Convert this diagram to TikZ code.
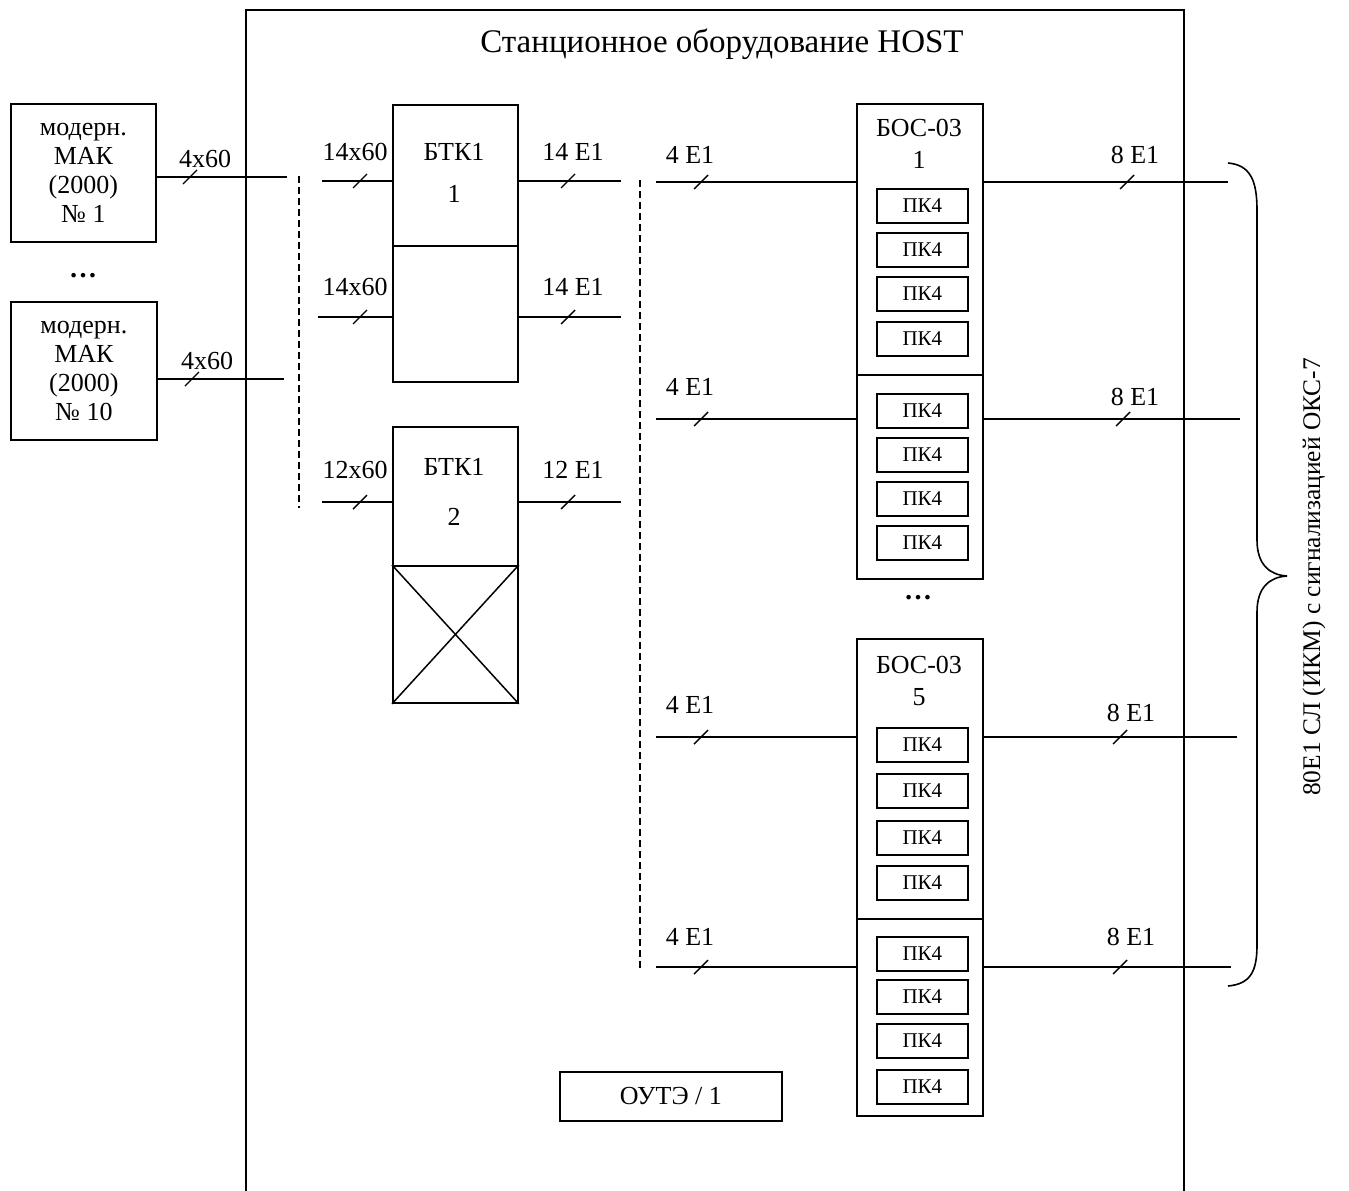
\documentclass[tikz,border=0pt]{standalone}
\usepackage{fontspec}
\setmainfont{Liberation Serif}
\begin{document}
\begin{tikzpicture}[x=1pt,y=-1pt,line width=1.8pt,
  box/.style={draw,line width=1.8pt,inner sep=0pt,anchor=north west},
  pkbox/.style={draw,line width=1.7pt,inner sep=0pt,anchor=north west,minimum width=91pt,minimum height=34pt,font=\fontsize{21}{24}\selectfont},
  lbl/.style={inner sep=0pt,font=\fontsize{26}{30}\selectfont},
  slashmark/.pic={\draw[line width=1.4pt] (-7,7)--(7,-7);},
  dashline/.style={line width=1.4pt,dash pattern=on 7pt off 4pt}]
\useasboundingbox (0,0) rectangle (1349,1191);
% main frame
\coordinate (fbl) at (246,1195);
\coordinate (ftl) at (246,10);
\coordinate (ftr) at (1184,10);
\coordinate (fbr) at (1184,1195);
\draw (fbl) -- (ftl) -- (ftr) -- (fbr);
\node[inner sep=0pt,font=\fontsize{33}{38}\selectfont] (title) at (722,44) {Станционное оборудование HOST};
% MAK boxes
\node[box,minimum width=145pt,minimum height=138pt] (mak1) at (10,103) {};
\node[lbl,align=center,font=\fontsize{26}{29}\selectfont] (mak1t) at (mak1.center) {модерн.\\МАК\\(2000)\\№ 1};
\node[lbl,font=\fontsize{28}{30}\selectfont\bfseries] (dots1) at (83,276) {…};
\node[box,minimum width=146pt,minimum height=138pt] (mak10) at (10,301) {};
\node[lbl,align=center,font=\fontsize{26}{29}\selectfont] (mak10t) at (mak10.center) {модерн.\\МАК\\(2000)\\№ 10};
\coordinate (m1e) at (287,177);
\draw (m1e -| mak1.east) -- (m1e);
\pic at (190,177) {slashmark};
\node[lbl] (l41) at (205,159) {4x60};
\coordinate (m10e) at (284,379);
\draw (m10e -| mak10.east) -- (m10e);
\pic at (192,379) {slashmark};
\node[lbl] (l410) at (207,361) {4x60};
% dashed lines
\coordinate (d1a) at (299,176);
\coordinate (d1b) at (299,508);
\draw[dashline] (d1a) -- (d1b);
\coordinate (d2a) at (640,180);
\coordinate (d2b) at (640,968);
\draw[dashline] (d2a) -- (d2b);
% BTK1 block 1
\node[box,minimum width=125pt,minimum height=141pt] (btk1a) at (392,104) {};
\node[box,minimum width=125pt,minimum height=136pt] (btk1b) at (392,245) {};
\node[lbl] (btk1t) at (454,152) {БТК1};
\node[lbl] (btk1n) at (454,194) {1};
\coordinate (b1in) at (322,181);
\draw (b1in) -- (b1in -| btk1a.west);
\pic at (360,181) {slashmark};
\node[lbl] (lb1in) at (355,152) {14x60};
\coordinate (b1out) at (621,181);
\draw (b1out -| btk1a.east) -- (b1out);
\pic at (568,181) {slashmark};
\node[lbl] (lb1out) at (573,152) {14 E1};
\coordinate (b2in) at (318,317);
\draw (b2in) -- (b2in -| btk1b.west);
\pic at (360,317) {slashmark};
\node[lbl] (lb2in) at (355,287) {14x60};
\coordinate (b2out) at (621,317);
\draw (b2out -| btk1b.east) -- (b2out);
\pic at (568,317) {slashmark};
\node[lbl] (lb2out) at (573,287) {14 E1};
% BTK1 block 2
\node[box,minimum width=125pt,minimum height=139pt] (btk2a) at (392,426) {};
\node[box,minimum width=125pt,minimum height=137pt] (btk2b) at (392,565) {};
\draw[line width=1.5pt] (btk2b.north west) -- (btk2b.south east);
\draw[line width=1.5pt] (btk2b.north east) -- (btk2b.south west);
\node[lbl] (btk2t) at (454,467) {БТК1};
\node[lbl] (btk2n) at (454,517) {2};
\coordinate (b3in) at (322,502);
\draw (b3in) -- (b3in -| btk2a.west);
\pic at (360,502) {slashmark};
\node[lbl] (lb3in) at (355,470) {12x60};
\coordinate (b3out) at (621,502);
\draw (b3out -| btk2a.east) -- (b3out);
\pic at (568,502) {slashmark};
\node[lbl] (lb3out) at (573,470) {12 E1};
% BOS boxes
\node[box,minimum width=126pt,minimum height=271pt] (bos1) at (856,103) {};
\node[box,minimum width=126pt,minimum height=204pt] (bos2) at (856,374) {};
\node[box,minimum width=126pt,minimum height=280pt] (bos5) at (856,638) {};
\node[box,minimum width=126pt,minimum height=197pt] (bos6) at (856,918) {};
\node[lbl] (bos1t) at (919,128) {БОС-03};
\node[lbl] (bos1n) at (919,160) {1};
\node[lbl] (bos5t) at (919,665) {БОС-03};
\node[lbl] (bos5n) at (919,697) {5};
\node[lbl,font=\fontsize{28}{30}\selectfont\bfseries] (dots2) at (918,598) {…};
% PK4 boxes
\foreach \i/\yy in {a/188,b/232,c/276,d/321,e/393,f/437,g/481,h/525,i/727,j/773,k/820,l/865,m/936,n/979,o/1023,p/1069}
  \node[pkbox] (pk\i) at (876,\yy) {ПК4};
% BOS lines
\foreach \r/\yy/\xe in {1/182/1228,2/419/1240,3/737/1237,4/967/1231}{
  \coordinate (bin\r) at (656,\yy);
  \coordinate (bout\r) at (\xe,\yy);
}
\draw (bin1) -- (bin1 -| bos1.west);
\draw (bout1 -| bos1.east) -- (bout1);
\draw (bin2) -- (bin2 -| bos2.west);
\draw (bout2 -| bos2.east) -- (bout2);
\draw (bin3) -- (bin3 -| bos5.west);
\draw (bout3 -| bos5.east) -- (bout3);
\draw (bin4) -- (bin4 -| bos6.west);
\draw (bout4 -| bos6.east) -- (bout4);
\pic at (701,182) {slashmark};
\pic at (701,419) {slashmark};
\pic at (701,737) {slashmark};
\pic at (701,967) {slashmark};
\pic at (1127,182) {slashmark};
\pic at (1123,419) {slashmark};
\pic at (1120,737) {slashmark};
\pic at (1120,967) {slashmark};
\node[lbl] (li1) at (690,155) {4 E1};
\node[lbl] (li2) at (690,387) {4 E1};
\node[lbl] (li3) at (690,705) {4 E1};
\node[lbl] (li4) at (690,937) {4 E1};
\node[lbl] (lo1) at (1135,155) {8 E1};
\node[lbl] (lo2) at (1135,397) {8 E1};
\node[lbl] (lo3) at (1131,713) {8 E1};
\node[lbl] (lo4) at (1131,937) {8 E1};
% OUTE box
\node[box,minimum width=222pt,minimum height=49pt] (oute) at (559,1071) {};
\node[lbl] (outet) at (oute.center) {ОУТЭ / 1};
% brace
\coordinate (brt) at (1228,163);
\coordinate (brb) at (1228,986);
\coordinate (brtip) at (1287,576);
\draw[line width=1.6pt] (brt) .. controls (1250,165) and (1257,180) .. (1257,210) -- (1257,540)
  .. controls (1257,565) and (1270,575) .. (brtip)
  .. controls (1270,577) and (1257,587) .. (1257,612) -- (1257,945)
  .. controls (1257,972) and (1250,984) .. (brb);
\node[lbl,rotate=90,font=\fontsize{25.4}{30}\selectfont] (brlabel) at (1314,577) {80E1 СЛ (ИКМ) с сигнализацией ОКС-7};
\end{tikzpicture}
\end{document}
